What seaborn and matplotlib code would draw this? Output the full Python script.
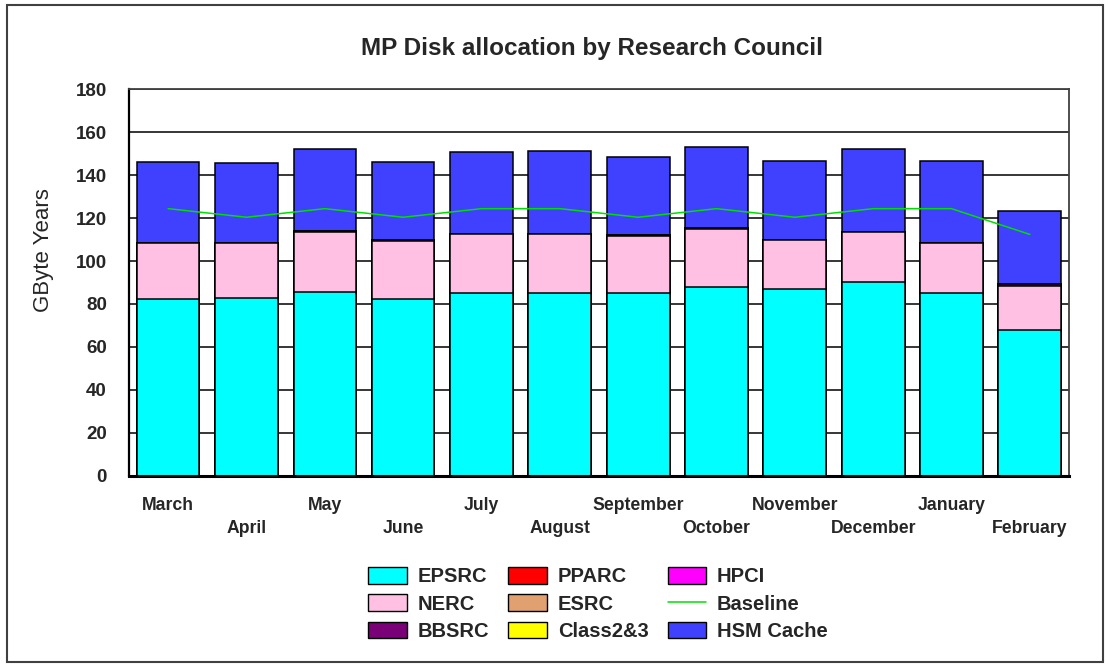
import numpy as np
import pandas as pd
import matplotlib
matplotlib.use("Agg")
import matplotlib.pyplot as plt
import seaborn as sns
from matplotlib.patches import Patch, Rectangle
from matplotlib.lines import Line2D

# Monthly disk allocation (GByte years) by research council
months = ["March", "April", "May", "June", "July", "August", "September",
          "October", "November", "December", "January", "February"]
epsrc = [82.2, 82.9, 85.4, 82.3, 85.0, 85.0, 85.0, 88.0, 86.8, 90.1, 85.0, 67.9]
nerc = [26.1, 25.4, 28.0, 26.8, 27.8, 27.8, 26.7, 26.8, 22.9, 23.2, 23.3, 20.5]
bbsrc = [0.0, 0.0, 0.8, 0.6, 0.0, 0.0, 0.5, 0.5, 0.0, 0.3, 0.0, 1.0]
pparc = [0.0] * 12
esrc = [0.0] * 12
class23 = [0.0] * 12
hpci = [0.0] * 12
hsm_cache = [37.7, 37.2, 37.8, 36.3, 37.8, 38.4, 36.4, 38.0, 36.9, 38.4, 38.3, 33.7]
baseline = [124.4, 120.4, 124.4, 120.4, 124.4, 124.4, 120.4, 124.4, 120.4,
            124.4, 124.4, 112.4]

y_ticks = list(range(0, 181, 20))

sns.set_style("white")
plt.rcParams["font.family"] = ["Liberation Sans", "DejaVu Sans"]

# stacking order, bottom to top
layers = [
    ("EPSRC", epsrc, "#00FFFF"),
    ("NERC", nerc, "#FFC0E4"),
    ("BBSRC", bbsrc, "#7A0078"),
    ("PPARC", pparc, "#FF0000"),
    ("ESRC", esrc, "#E0A070"),
    ("Class2&3", class23, "#FFFF00"),
    ("HPCI", hpci, "#FF00FF"),
    ("HSM Cache", hsm_cache, "#4040FF"),
]
line_color = "#00E000"

df = pd.DataFrame({name: vals for name, vals, _ in layers}, index=months)
cum = df.cumsum(axis=1)

fig = plt.figure(figsize=(11.1, 6.67), dpi=100)
ax = fig.add_axes([129 / 1110, 1 - 475.7 / 667, 940 / 1110, 386.4 / 667])

# draw cumulative totals from the top layer down so each layer shows its own slice
for name, _, color in reversed(layers):
    sns.barplot(x=months, y=cum[name].values, order=months, color=color,
                saturation=1, edgecolor="black", linewidth=1.1, width=0.8,
                ax=ax, zorder=2)

sns.lineplot(x=np.arange(len(months)), y=baseline, color=line_color,
             linewidth=1.1, ax=ax, zorder=3)

ax.set_ylim(0, 180)
ax.set_xlim(-0.5, len(months) - 0.5)
ax.set_yticks(y_ticks)
ax.set_yticklabels([str(t) for t in y_ticks], fontsize=13.5, fontweight="bold")
ax.set_xticks(np.arange(len(months)))
ax.set_xticklabels([m if i % 2 == 0 else "\n" + m for i, m in enumerate(months)],
                   fontsize=12.7, fontweight="bold", linespacing=1.5)
ax.tick_params(axis="y", length=0, pad=16)
ax.tick_params(axis="x", length=0, pad=15)
ax.yaxis.grid(True, color="black", linewidth=1.1)
ax.set_axisbelow(True)
ax.set_xlabel("")
ax.set_ylabel("GByte Years", fontsize=16)
ax.yaxis.set_label_coords(-0.08, 0.584)

for side in ["top", "right"]:
    ax.spines[side].set_color("#404040")
    ax.spines[side].set_linewidth(1.3)
ax.spines["left"].set_color("black")
ax.spines["left"].set_linewidth(1.6)
ax.spines["bottom"].set_color("black")
ax.spines["bottom"].set_linewidth(2.2)

fig.text(592 / 1110, 1 - 49 / 667, "MP Disk allocation by Research Council",
         ha="center", va="center", fontsize=17.5, fontweight="bold")

# legend, filled column by column
handles = []
labels = []
order = ["EPSRC", "NERC", "BBSRC", "PPARC", "ESRC", "Class2&3", "HPCI",
         "Baseline", "HSM Cache"]
colors = {name: color for name, _, color in layers}
for name in order:
    if name == "Baseline":
        handles.append(Line2D([], [], color=line_color, linewidth=1.1))
    else:
        handles.append(Patch(facecolor=colors[name], edgecolor="black",
                             linewidth=1.0))
    labels.append(name)
leg = fig.legend(handles, labels, ncol=3, loc="center",
                 bbox_to_anchor=(598 / 1110, 1 - 604 / 667), frameon=False,
                 prop={"weight": "bold", "size": 14.5}, handlelength=1.9,
                 handleheight=0.9, handletextpad=0.55, columnspacing=0.95,
                 labelspacing=0.4, borderpad=0)

# outer frame of the chart
fig.patches.append(Rectangle((7 / 1110, 5 / 667), 1096 / 1110, 657 / 667,
                             transform=fig.transFigure, fill=False,
                             edgecolor="#404040", linewidth=1.5))

fig.savefig("out.png", dpi=100)
